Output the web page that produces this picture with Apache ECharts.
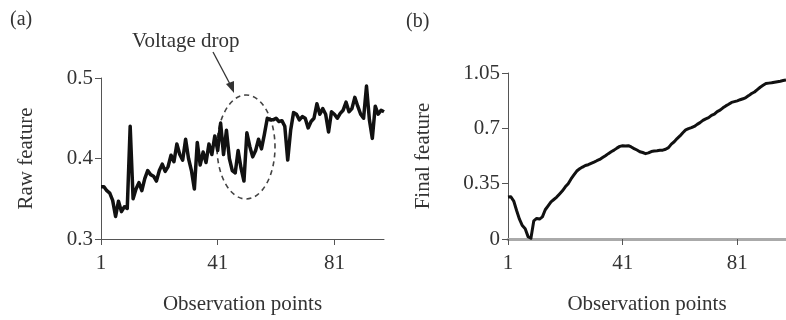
<!DOCTYPE html>
<html>
<head>
<meta charset="utf-8">
<script src="https://cdn.jsdelivr.net/npm/echarts@6/dist/echarts.min.js"></script>
<style>
  html, body { margin: 0; padding: 0; background: #fff; }
  #chart { width: 786px; height: 320px; }
</style>
</head>
<body>
<div id="chart"></div>
<script>
// observation index 1..98
const points = [];
for (let i = 1; i <= 98; i++) points.push(String(i));

// (a) raw feature
const rawFeature = [
  0.365, 0.365, 0.360, 0.357, 0.348, 0.328, 0.347, 0.334, 0.340, 0.338,
  0.440, 0.350, 0.362, 0.370, 0.360, 0.375, 0.385, 0.380, 0.378, 0.372,
  0.385, 0.393, 0.384, 0.390, 0.404, 0.396, 0.418, 0.405, 0.398, 0.424,
  0.400, 0.385, 0.362, 0.420, 0.392, 0.408, 0.395, 0.418, 0.405, 0.428,
  0.410, 0.444, 0.405, 0.435, 0.400, 0.385, 0.382, 0.410, 0.388, 0.372,
  0.432, 0.415, 0.402, 0.410, 0.424, 0.412, 0.430, 0.450, 0.448, 0.448,
  0.450, 0.446, 0.447, 0.440, 0.398, 0.435, 0.457, 0.455, 0.448, 0.452,
  0.450, 0.438, 0.446, 0.450, 0.468, 0.455, 0.462, 0.455, 0.433, 0.458,
  0.455, 0.450, 0.456, 0.460, 0.470, 0.458, 0.462, 0.476, 0.465, 0.455,
  0.450, 0.490, 0.448, 0.425, 0.465, 0.455, 0.460, 0.458
];

// (b) final feature
const finalFeature = [
  0.265, 0.267, 0.240, 0.180, 0.125, 0.085, 0.065, 0.015, 0.005, 0.115,
  0.130, 0.126, 0.140, 0.185, 0.210, 0.235, 0.250, 0.265, 0.285, 0.305,
  0.330, 0.350, 0.380, 0.405, 0.430, 0.444, 0.455, 0.465, 0.470, 0.478,
  0.486, 0.495, 0.503, 0.515, 0.527, 0.540, 0.552, 0.562, 0.575, 0.586,
  0.590, 0.588, 0.590, 0.582, 0.572, 0.563, 0.552, 0.547, 0.540, 0.545,
  0.553, 0.556, 0.558, 0.561, 0.562, 0.568, 0.578, 0.600, 0.615, 0.635,
  0.652, 0.672, 0.690, 0.698, 0.704, 0.712, 0.725, 0.736, 0.750, 0.760,
  0.768, 0.782, 0.790, 0.806, 0.815, 0.830, 0.842, 0.852, 0.864, 0.869,
  0.874, 0.881, 0.887, 0.895, 0.907, 0.920, 0.930, 0.945, 0.960, 0.972,
  0.983, 0.986, 0.988, 0.992, 0.995, 0.998, 1.002, 1.006
];

const rawTicks = [0.3, 0.4, 0.5];
const finalTicks = [0, 0.35, 0.7, 1.05];

const serif = 'Liberation Serif';
const textColor = '#333';

const fmt = (ticks) => (v) => {
  const hit = ticks.find(t => Math.abs(t - v) < 1e-6);
  return hit === undefined ? '' : String(hit);
};

function xAxisFor(gridIndex, lineColor, lineWidth) {
  return {
    type: 'category',
    gridIndex,
    data: points,
    boundaryGap: false,
    name: 'Observation points',
    nameLocation: 'middle',
    nameGap: 55,
    nameTextStyle: { fontFamily: serif, fontSize: 21, color: textColor },
    axisLine: { lineStyle: { color: lineColor, width: lineWidth } },
    axisTick: { interval: 39, length: 6, lineStyle: { color: '#555', width: 1 } },
    axisLabel: { interval: 39, margin: 14, fontFamily: serif, fontSize: 21, color: textColor },
    splitLine: { show: false }
  };
}

function yAxisFor(gridIndex, name, min, max, interval, ticks, nameGap) {
  return {
    type: 'value',
    gridIndex,
    min, max, interval,
    name,
    nameLocation: 'middle',
    nameGap,
    nameTextStyle: { fontFamily: serif, fontSize: 21, color: textColor },
    axisLine: { show: true, lineStyle: { color: '#555', width: 1 } },
    axisTick: { show: true, length: 6, lineStyle: { color: '#555' } },
    axisLabel: { margin: 8, fontFamily: serif, fontSize: 21, color: textColor, formatter: fmt(ticks) },
    splitLine: { show: false }
  };
}

const chart = echarts.init(document.getElementById('chart'));

chart.setOption({
  animation: false,
  grid: [
    { left: 101, right: 402, top: 78, bottom: 76 },
    { left: 508, right: 0, top: 73, bottom: 78 }
  ],
  xAxis: [
    xAxisFor(0, '#555', 1),
    xAxisFor(1, '#aaa', 3)
  ],
  yAxis: [
    yAxisFor(0, 'Raw feature', 0.3, 0.5, 0.1, rawTicks, 64),
    yAxisFor(1, 'Final feature', 0, 1.05, 0.35, finalTicks, 74)
  ],
  series: [
    {
      type: 'line',
      xAxisIndex: 0, yAxisIndex: 0,
      data: rawFeature,
      showSymbol: false,
      lineStyle: { color: '#111', width: 3.5, join: 'round' }
    },
    {
      type: 'line',
      xAxisIndex: 1, yAxisIndex: 1,
      data: finalFeature,
      showSymbol: false,
      lineStyle: { color: '#111', width: 3, join: 'round' }
    }
  ],
  graphic: [
    { type: 'text', left: 10, top: 10, style: { text: '(a)', fontFamily: serif, fontSize: 20, fill: textColor } },
    { type: 'text', left: 406, top: 12, style: { text: '(b)', fontFamily: serif, fontSize: 20, fill: textColor } },
    { type: 'text', left: 132, top: 31, style: { text: 'Voltage drop', fontFamily: serif, fontSize: 21, fill: textColor } },
    {
      type: 'ellipse',
      shape: { cx: 246, cy: 147, rx: 29, ry: 52 },
      style: { fill: 'none', stroke: '#444', lineWidth: 1.6, lineDash: [5, 4] }
    },
    {
      type: 'line',
      shape: { x1: 213, y1: 52, x2: 231, y2: 86 },
      style: { stroke: '#333', lineWidth: 1.3 }
    },
    {
      type: 'polygon',
      shape: { points: [[234, 93], [226, 84], [234, 81]] },
      style: { fill: '#333' }
    }
  ]
});
</script>
</body>
</html>
